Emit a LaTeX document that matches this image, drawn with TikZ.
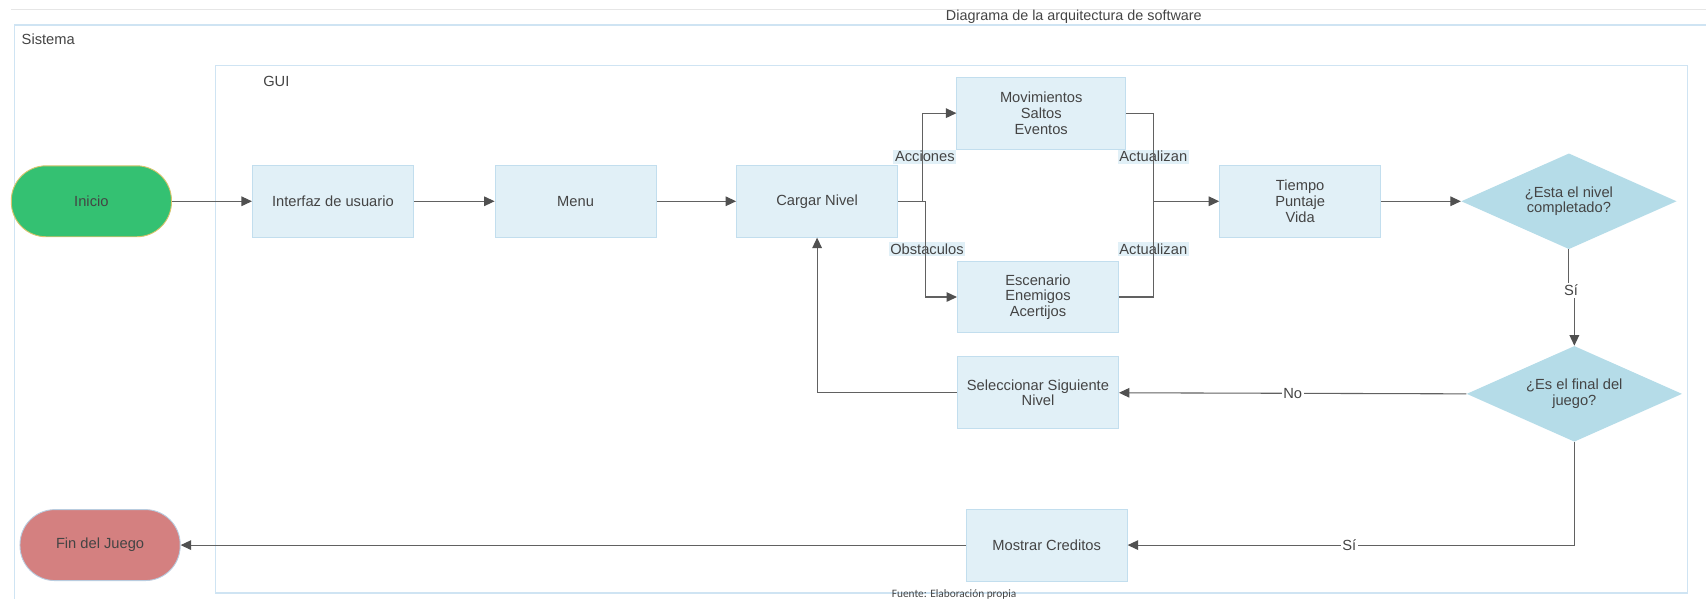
\documentclass[tikz,border=0pt]{standalone}
\usepackage{fontspec}
\setmainfont{Liberation Sans}
\newfontfamily\fuentenota{Carlito}
\usetikzlibrary{arrows.meta,positioning,calc,shapes.geometric}
\definecolor{textoGris}{HTML}{444444}
\definecolor{lineaGris}{HTML}{616161}
\definecolor{puntaGris}{HTML}{505050}
\definecolor{fondoCaja}{HTML}{E1F0F7}
\definecolor{bordeCaja}{HTML}{C2DEEE}
\definecolor{fondoRombo}{HTML}{B5DCE8}
\definecolor{verdeInicio}{HTML}{34C172}
\definecolor{bordeInicio}{HTML}{D8C46C}
\definecolor{rojoFin}{HTML}{D48080}
\definecolor{bordeFin}{HTML}{B9CCDF}
\definecolor{marcoAzul}{HTML}{CFE4F3}
\definecolor{marcoGris}{HTML}{E6E6E6}

\begin{document}
\begin{tikzpicture}[x=0.025cm,y=-0.025cm,
      caja/.style={draw=bordeCaja,fill=fondoCaja,line width=0.6pt,minimum width=3.7cm,
        minimum height=1.65cm,align=center,text=textoGris,inner sep=2pt,
        font=\fontsize{9.6}{10.2}\selectfont},
      terminal/.style={rounded corners=0.8cm,line width=0.6pt,minimum width=3.68cm,
        minimum height=1.63cm,text=textoGris,font=\fontsize{9.6}{10.2}\selectfont},
      decision/.style={diamond,aspect=2.25,fill=fondoRombo,minimum width=4.95cm,minimum height=2.2cm,
        inner sep=0pt,align=center,text=textoGris,font=\fontsize{9.6}{10.2}\selectfont},
      linea/.style={draw=lineaGris,line width=0.7pt},
      flecha/.style={linea,-{Triangle[length=2.4mm,width=2.2mm,color=puntaGris]}},
      etiqueta/.style={fill=fondoCaja,inner sep=1pt,text=textoGris,
        font=\fontsize{9.6}{10.2}\selectfont},
      rotulo/.style={fill=white,inner sep=1pt,text=textoGris,
        font=\fontsize{9.6}{10.2}\selectfont}]
    \useasboundingbox (0,0) rectangle (1568,550);

    % Marcos: diagrama, sistema y GUI.
    \draw[marcoGris,line width=0.6pt] (10,9) -- (1568,9);
    \node[text=textoGris,font=\fontsize{9.4}{10}\selectfont] (titulo) at (987,15)
      {Diagrama de la arquitectura de software};
    \draw[marcoAzul,line width=0.8pt] (13,552) -- (13,23) -- (1570,23);
    \node[anchor=west,text=textoGris,font=\fontsize{9.6}{10}\selectfont] (sistema) at (15,36) {Sistema};
    \draw[marcoAzul,line width=0.8pt] (198,60) rectangle (1551,545);
    \node[anchor=west,text=textoGris,font=\fontsize{9.6}{10}\selectfont] (gui) at (237,75) {GUI};
    \node[text=textoGris,font=\fuentenota\fontsize{7.4}{8}\selectfont] (fuente) at (877,546)
      {Fuente: Elaboración propia};

    % Flujo principal.
    \node[terminal,draw=bordeInicio,fill=verdeInicio] (inicio) at (84,185) {Inicio};
    \node[caja] (interfaz) at (306,185) {Interfaz de usuario};
    \node[caja] (menu) at (529,185) {Menu};
    \node[caja] (cargar) at (751,185) {Cargar Nivel};
    \node[caja,minimum width=3.875cm] (movim) at (957,104) {Movimientos\\Saltos\\Eventos};
    \node[caja] (escen) at (954,273) {Escenario\\Enemigos\\Acertijos};
    \node[caja] (tiempo) at (1195,185) {Tiempo\\Puntaje\\Vida};
    \node[decision] (completo) at (1442,185) {¿Esta el nivel\\completado?};
    \node[decision] (final) at (1447,362) {¿Es el final del\\juego?};
    \node[caja] (siguiente) at (954,361) {Seleccionar Siguiente\\Nivel};
    \node[caja] (creditos) at (962,501) {Mostrar Creditos};
    \node[terminal,draw=bordeFin,fill=rojoFin] (fin) at (92,501) {Fin del Juego};

    \draw[flecha] (inicio) -- (interfaz);
    \draw[flecha] (interfaz) -- (menu);
    \draw[flecha] (menu) -- (cargar);

    % Ramas de Cargar Nivel (las etiquetas quedan debajo de la línea).
    \node[etiqueta] (acciones) at (850,144) {Acciones};
    \node[etiqueta] (obstac) at (852,229) {Obstaculos};
    \node[etiqueta] (actual1) at (1060,144) {Actualizan};
    \node[etiqueta] (actual2) at (1060,229) {Actualizan};
    \coordinate (ramaA) at (848,185);
    \coordinate (ramaB) at (851,185);
    \coordinate (union) at (1060,185);
    \draw[flecha] (cargar.east) -- (ramaA) |- (movim.west);
    \draw[flecha] (cargar.east) -- (ramaB) |- (escen.west);
    \draw[linea] (movim.east) -| (union);
    \draw[linea] (escen.east) -| (union);
    \draw[flecha] (union) -- (tiempo.west);
    \draw[flecha] (tiempo) -- (completo);

    % Decisiones.
    \coordinate (medioSi) at (1444,267);
    \draw[linea] (completo.south) -- (completo.south |- medioSi);
    \draw[flecha] (final.north |- medioSi) -- (final.north);
    \node[rotulo] (si1) at (medioSi) {Sí};
    \draw[flecha] (final.west) -- node[rotulo] (no) {No} (siguiente.east);
    \draw[flecha] (siguiente.west) -| (cargar.south);
    \draw[flecha] (final.south) |- node[rotulo,pos=0.752] (si2) {Sí} (creditos.east);
    \draw[flecha] (creditos.west) -- (fin.east);
  \end{tikzpicture}
\end{document}
